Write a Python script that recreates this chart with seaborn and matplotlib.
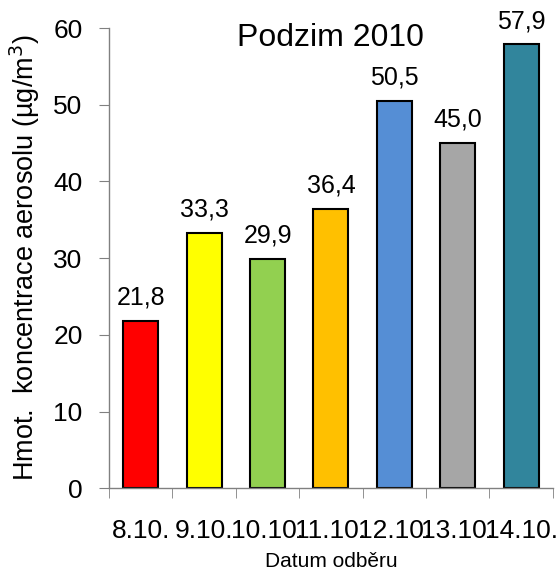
import matplotlib
matplotlib.use("Agg")
import matplotlib.pyplot as plt
import seaborn as sns
import numpy as np
import pandas as pd

dates = ["8.10.", "9.10.", "10.10.", "11.10.", "12.10.", "13.10.", "14.10."]
values = [21.8, 33.3, 29.9, 36.4, 50.5, 45.0, 57.9]
colors = ["#FF0000", "#FFFF00", "#92D050", "#FFC000", "#558ED5", "#A6A6A6", "#31859C"]

df = pd.DataFrame({"Datum": dates, "Hodnota": values})

sns.set_style("white")
plt.rcParams["font.family"] = ["Liberation Sans", "DejaVu Sans"]
plt.rcParams["text.color"] = "black"
plt.rcParams["axes.labelcolor"] = "black"

fig = plt.figure(figsize=(5.59, 5.73), dpi=100)
ax = fig.add_axes([0.195, 0.148, 0.794, 0.803])

sns.barplot(data=df, x="Datum", y="Hodnota", hue="Datum", palette=colors,
            legend=False, width=0.55, edgecolor="black", linewidth=1.5,
            saturation=1, ax=ax)

for cont in ax.containers:
    ax.bar_label(cont, labels=[f"{v:.1f}".replace(".", ",") for v in cont.datavalues],
                 padding=8, fontsize=18, color="black")

ax.set_xlim(-0.5, len(dates) - 0.5)
ax.set_ylim(0, 60)
ax.set_yticks(range(0, 61, 10))
ax.set_xticks(np.arange(-0.5, len(dates), 1), minor=True)
ax.tick_params(axis="x", which="major", length=0, labelsize=19, pad=22,
               labelcolor="black")
ax.tick_params(axis="x", which="minor", length=7, color="#808080", bottom=True)
ax.tick_params(axis="y", length=7, color="#808080", left=True, labelsize=19,
               pad=12, labelcolor="black")

for s in ["top", "right"]:
    ax.spines[s].set_visible(False)
for s in ["left", "bottom"]:
    ax.spines[s].set_color("#808080")
    ax.spines[s].set_linewidth(1)

ax.set_xlabel("Datum odběru", fontsize=15, labelpad=7)
ax.set_ylabel("Hmot.  koncentrace aerosolu (µg/m$^3$)", fontsize=19.5, labelpad=8)
ax.text(0.5, 0.978, "Podzim 2010", transform=ax.transAxes, ha="center",
        va="center", fontsize=23)

fig.savefig("out.png", dpi=100)
